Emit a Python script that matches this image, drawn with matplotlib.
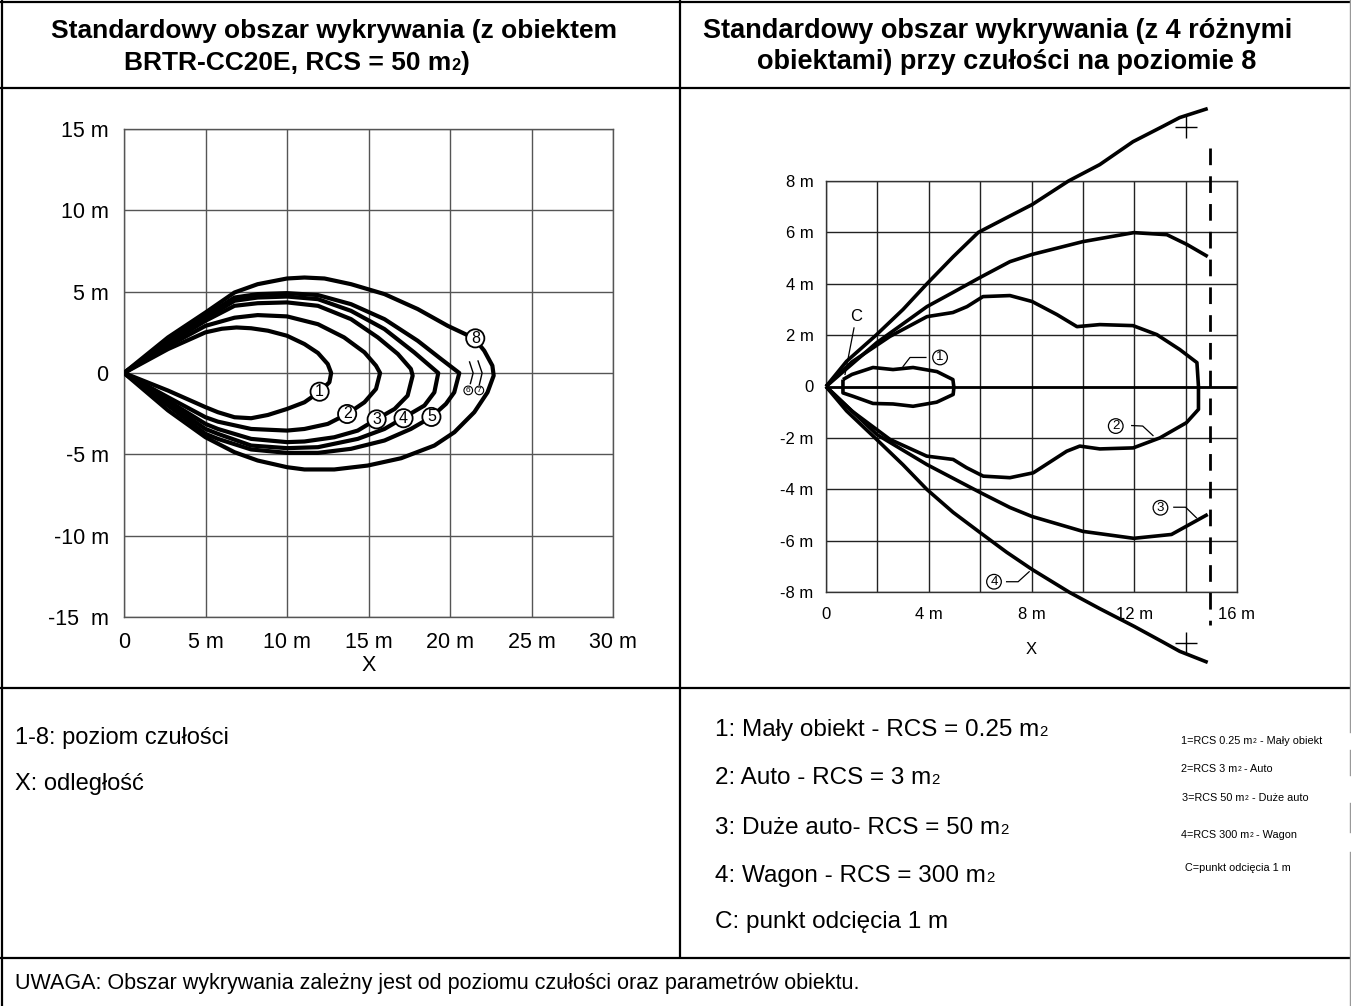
import matplotlib
matplotlib.use("Agg")
import matplotlib.pyplot as plt

plt.rcParams['font.family'] = ['Liberation Sans', 'DejaVu Sans']

# ---- left chart: sensitivity levels (object RCS = 50 m2) ----
levels = ['1', '2', '3', '4', '5', '8']
left_x = {
    '1': [0, 2.7, 5.0, 6.0, 6.9, 7.8, 8.83, 10, 11.07, 11.9, 12.5, 12.71, 12.6, 12.0, 11.07, 10, 8.83, 7.8,
          6.78, 5.76, 5.0, 2.7, 0],
    '2': [0, 2.7, 5.0, 6.78, 8.2, 10, 11.9, 13.5, 14.75, 15.46, 15.71, 15.46, 14.75, 13.69, 12.5, 11.07, 10,
          7.8, 5.76, 5.0, 2.7, 0],
    '3': [0, 2.7, 5.0, 6.78, 8.2, 10, 11.9, 13.93, 15.57, 16.8, 17.6, 17.71, 17.4, 16.6, 15.46, 14.34, 12.9,
          11.07, 10, 7.8, 5.76, 5.0, 2.7, 0],
    '4': [0, 2.7, 5.0, 6.78, 8.2, 10, 11.9, 13.93, 15.98, 17.8, 19.28, 19.04, 18.43, 17.1, 15.98, 14.34, 11.9,
          10, 7.8, 5.76, 5.0, 2.7, 0],
    '5': [0, 2.7, 5.0, 6.78, 8.2, 10, 11.9, 13.93, 15.98, 18.02, 19.45, 20.57, 20.26, 19.75, 18.84, 17.6,
          15.98, 13.93, 11.9, 10, 7.8, 5.76, 5.0, 2.7, 0],
    '8': [0, 2.7, 5.0, 6.78, 8.2, 10, 11.07, 12.3, 13.93, 15.98, 18.02, 19.86, 21.49, 22.1, 22.6, 22.68, 22.3,
          21.49, 20.27, 19.04, 17.0, 14.95, 12.9, 11.07, 10, 8.2, 6.78, 5.0, 2.7, 0],
}
left_y = {
    '1': [0, 1.47, 2.5, 2.72, 2.8, 2.75, 2.6, 2.29, 1.78, 1.23, 0.55, 0, -0.57, -1.15, -1.8, -2.21, -2.58, -2.78,
          -2.72, -2.41, -2.1, -1.08, 0],
    '2': [0, 1.65, 2.9, 3.4, 3.56, 3.48, 3.0, 2.19, 1.27, 0.45, 0, -0.98, -1.8, -2.52, -3.13, -3.44, -3.54,
          -3.44, -2.99, -2.72, -1.49, 0],
    '3': [0, 1.8, 3.21, 4.13, 4.29, 4.34, 4.13, 3.31, 2.19, 1.17, 0.25, -0.16, -1.39, -2.21, -2.86, -3.54, -3.95,
          -4.21, -4.25, -4.05, -3.44, -3.13, -1.7, 0],
    '4': [0, 1.9, 3.35, 4.44, 4.64, 4.7, 4.54, 3.82, 2.7, 1.27, 0, -1.19, -2.0, -2.78, -3.44, -4.05, -4.56,
          -4.62, -4.46, -3.74, -3.44, -1.85, 0],
    '5': [0, 2.0, 3.52, 4.64, 4.85, 4.91, 4.79, 4.23, 3.31, 1.98, 0.86, 0, -1.19, -1.9, -2.72, -3.44, -4.15,
          -4.66, -4.91, -4.91, -4.7, -4.05, -3.74, -2.0, 0],
    '8': [0, 2.19, 3.72, 4.95, 5.46, 5.81, 5.87, 5.81, 5.46, 4.85, 3.93, 2.9, 2.13, 1.37, 0.45, -0.16, -1.19,
          -2.41, -3.64, -4.46, -5.24, -5.69, -5.93, -5.93, -5.79, -5.38, -4.87, -3.95, -2.3, 0],
}
left_label_pos = {'1': (12.0, -1.15), '2': (13.69, -2.52), '3': (15.5, -2.85),
                  '4': (17.15, -2.78), '5': (18.86, -2.7), '8': (21.55, 2.13)}
# levels 6 and 7: only short arcs near the tip
arc6_x = [21.2, 21.42, 21.25]
arc6_y = [0.68, 0, -0.65]
arc7_x = [21.72, 21.97, 21.8]
arc7_y = [0.74, 0, -0.72]
small_label_pos = {'6': (21.12, -1.07), '7': (21.8, -1.07)}

left_xticks = [0, 5, 10, 15, 20, 25, 30]
left_xlabels = ['0', '5 m', '10 m', '15 m', '20 m', '25 m', '30 m']
left_yticks = [15, 10, 5, 0, -5, -10, -15]
left_ylabels = ['15 m', '10 m', '5 m', '0', '-5 m', '-10 m', '-15  m']

# ---- right chart: 4 objects at sensitivity 8 ----
r1_x = [0.66, 1.01, 1.83, 2.61, 3.39, 4.32, 4.94, 4.98, 4.95, 4.31, 3.39, 2.61, 1.83, 1.05, 0.66, 0.66]
r1_y = [0.27, 0.47, 0.74, 0.66, 0.74, 0.58, 0.27, -0.04, -0.31, -0.61, -0.77, -0.68, -0.66, -0.38, -0.25, 0.27]
r2_x = [0, 1.0, 2.49, 3.93, 4.94, 5.49, 6.11, 7.16, 8.02, 8.99, 9.77, 10.66, 11.95, 12.88, 13.77, 14.44, 14.5, 14.5,
        14.03, 13.0, 11.96, 10.66, 9.88, 9.37, 8.07, 7.16, 6.12, 5.47, 4.95, 3.92, 2.49, 1.0, 0]
r2_y = [0, 0.95, 1.95, 2.72, 2.88, 3.11, 3.5, 3.54, 3.31, 2.8, 2.33, 2.41, 2.37, 2.02, 1.44, 0.93, 0, -0.89,
        -1.41, -2.0, -2.39, -2.43, -2.32, -2.52, -3.36, -3.55, -3.49, -3.16, -2.84, -2.71, -2.06, -0.95, 0]
r3_top_x = [0, 1.98, 3.93, 4.94, 5.99, 7.16, 8.02, 10.0, 11.98, 13.27, 14.05, 14.86]
r3_top_y = [0, 1.71, 3.11, 3.66, 4.24, 4.86, 5.14, 5.64, 5.99, 5.91, 5.53, 5.06]
r3_bot_x = [0, 1.98, 3.93, 5.99, 7.16, 8.02, 10.0, 11.98, 13.45, 14.86]
r3_bot_y = [0, -1.87, -3.04, -4.12, -4.71, -5.06, -5.64, -5.91, -5.76, -4.98]
r4_top_x = [0, 0.8, 1.95, 3.0, 3.93, 4.95, 5.93, 7.03, 8.02, 9.44, 10.66, 11.95, 13.12, 13.77, 14.86]
r4_top_y = [0, 0.98, 2.0, 3.0, 4.0, 5.05, 6.0, 6.57, 7.08, 8.0, 8.64, 9.53, 10.13, 10.47, 10.82]
r4_bot_x = [0, 0.8, 1.97, 3.0, 3.93, 4.95, 5.99, 7.03, 8.02, 9.49, 10.66, 12.0, 13.12, 13.77, 14.86]
r4_bot_y = [0, -0.95, -2.06, -3.05, -4.01, -4.9, -5.68, -6.45, -7.12, -8.02, -8.65, -9.34, -9.95, -10.31, -10.74]
cutoff_x = 14.94
cutoff_y = [9.3, -9.3]
plus_x = [14.0, 14.0]
plus_y = [10.1, -10.0]

right_label_pos = {'1': (4.44, 1.13), '2': (11.28, -1.54), '3': (13.02, -4.72), '4': (6.54, -7.6)}
right_leaders = {
    '1': ([3.0, 3.27, 3.89], [0.78, 1.13, 1.13]),
    '2': ([11.9, 12.33, 12.73], [-1.52, -1.54, -1.91]),
    '3': ([13.54, 14.0, 14.42], [-4.7, -4.7, -5.11]),
    '4': ([7.03, 7.48, 7.91], [-7.6, -7.6, -7.21]),
}
c_leader_x = [1.09, 0.74]
c_leader_y = [2.28, 0.47]

right_xticks = [0, 4, 8, 12, 16]
right_xlabels = ['0', '4 m', '8 m', '12 m', '16 m']
right_yticks = [8, 6, 4, 2, 0, -2, -4, -6, -8]
right_ylabels = ['8 m', '6 m', '4 m', '2 m', '0', '-2 m', '-4 m', '-6 m', '-8 m']

W, H = 1351, 1006
fig = plt.figure(figsize=(W / 100, H / 100), dpi=100)

# background axes in pixel coordinates for the table frame and texts
bg = fig.add_axes([0, 0, 1, 1])
bg.set_xlim(0, W)
bg.set_ylim(H, 0)
bg.axis('off')


def rect(x0, y0, x1, y1):
    return [x0 / W, 1 - y1 / H, (x1 - x0) / W, (y1 - y0) / H]


# table frame
blk = dict(color='black', lw=1.6, solid_capstyle='butt')
bg.plot([0, W], [1.5, 1.5], **blk)
bg.plot([1.5, 1.5], [0, H], **blk)
bg.plot([680, 680], [0, 958], **blk)
for yy in [88, 688, 958]:
    bg.plot([0, W], [yy, yy], **blk)
for y0, y1 in [(0, 732), (750, 775), (803, 832), (852, H)]:
    bg.plot([1349.5, 1349.5], [y0, y1], color='#999999', lw=1)


def text_m2(x, y, before, after='', size=16, small=None, weight='normal'):
    if small is None:
        small = size * 0.62
    t1 = bg.text(x, y, before, fontsize=size, ha='left', va='baseline', fontweight=weight)
    t2 = bg.annotate('2', xy=(1, 0), xycoords=t1,
                     xytext=(0.3, 0.21 * (size - small)), textcoords='offset points',
                     fontsize=small, ha='left', va='bottom', fontweight=weight)
    if after:
        bg.annotate(after, xy=(1, 0), xycoords=(t2, t1), fontsize=size,
                    ha='left', va='bottom', fontweight=weight)


# titles
bg.text(334, 31, 'Standardowy obszar wykrywania (z obiektem', fontsize=19, fontweight='bold',
        ha='center', va='center')
text_m2(124, 70, 'BRTR-CC20E, RCS = 50 m', ')', size=19, weight='bold')
bg.text(998, 31, 'Standardowy obszar wykrywania (z 4 różnymi', fontsize=19.5, fontweight='bold',
        ha='center', va='center')
bg.text(1007, 62, 'obiektami) przy czułości na poziomie 8', fontsize=19.5, fontweight='bold',
        ha='center', va='center')

# legend cells
bg.text(15, 744, '1-8: poziom czułości', fontsize=17, va='baseline')
bg.text(15, 790, 'X: odległość', fontsize=17, va='baseline')
text_m2(715, 736, '1: Mały obiekt - RCS = 0.25 m', size=17.5)
text_m2(715, 784, '2: Auto - RCS = 3 m', size=17.5)
text_m2(715, 834, '3: Duże auto- RCS = 50 m', size=17.5)
text_m2(715, 882, '4: Wagon - RCS = 300 m', size=17.5)
bg.text(715, 928, 'C: punkt odcięcia 1 m', fontsize=17.5, va='baseline')

text_m2(1181, 744, '1=RCS 0.25 m', ' - Mały obiekt', size=7.8)
text_m2(1181, 772, '2=RCS 3 m', ' - Auto', size=7.8)
text_m2(1182, 801, '3=RCS 50 m', ' - Duże auto', size=7.8)
text_m2(1181, 838, '4=RCS 300 m', ' - Wagon', size=7.8)
bg.text(1185, 871, 'C=punkt odcięcia 1 m', fontsize=7.8, va='baseline')

bg.text(15, 989, 'UWAGA: Obszar wykrywania zależny jest od poziomu czułości oraz parametrów obiektu.',
        fontsize=15.5, va='baseline')

# ---- left chart ----
axL = fig.add_axes(rect(124, 129, 613, 617))
axL.set_xlim(0, 30)
axL.set_ylim(-15, 15)
axL.set_xticks(left_xticks, left_xlabels)
axL.set_yticks(left_yticks, left_ylabels)
axL.tick_params(length=0, labelsize=15.5, pad=11)
axL.grid(True, color='#555555', lw=1)
for s in axL.spines.values():
    s.set_color('#555555')
    s.set_linewidth(1)
axL.set_xlabel('X', fontsize=15.5, labelpad=1)
axL.set_facecolor('none')

for lv in levels:
    axL.plot(left_x[lv], left_y[lv], color='black', lw=3, solid_joinstyle='round',
             solid_capstyle='round', zorder=3)
for lv in levels:
    lx, ly = left_label_pos[lv]
    axL.text(lx, ly, lv, fontsize=11.5, ha='center', va='center', zorder=5,
             bbox=dict(boxstyle='circle,pad=0.1', fc='white', ec='black', lw=1.3))
axL.plot(arc6_x, arc6_y, color='black', lw=1, zorder=3)
axL.plot(arc7_x, arc7_y, color='black', lw=1, zorder=3)
for lv, (lx, ly) in small_label_pos.items():
    axL.text(lx, ly, lv, fontsize=6, ha='center', va='center', zorder=5,
             bbox=dict(boxstyle='circle,pad=0.1', fc='white', ec='black', lw=0.8))

# ---- right chart ----
axR = fig.add_axes(rect(826, 181, 1237, 592))
axR.set_xlim(0, 16)
axR.set_ylim(-8, 8)
axR.set_xticks(right_xticks, right_xlabels)
axR.set_xticks(range(0, 17, 2), minor=True)
axR.set_yticks(right_yticks, right_ylabels)
axR.tick_params(which='both', length=0, labelsize=12, pad=9)
axR.tick_params(axis='x', pad=11)
axR.grid(True, which='both', color='#222222', lw=1)
for s in axR.spines.values():
    s.set_color('#333333')
    s.set_linewidth(1)
axR.set_xlabel('X', fontsize=12, labelpad=14)
axR.set_facecolor('none')

axR.axhline(0, color='black', lw=2, zorder=2)
kw = dict(color='black', lw=2.6, solid_joinstyle='round', solid_capstyle='butt', clip_on=False, zorder=3)
axR.plot(r1_x, r1_y, **kw)
axR.plot(r2_x, r2_y, **kw)
axR.plot(r3_top_x, r3_top_y, **kw)
axR.plot(r3_bot_x, r3_bot_y, **kw)
axR.plot(r4_top_x, r4_top_y, **kw)
axR.plot(r4_bot_x, r4_bot_y, **kw)
axR.plot([cutoff_x, cutoff_x], cutoff_y, color='black', lw=2, dashes=(6, 4), clip_on=False, zorder=3)
axR.plot(plus_x, plus_y, ls='none', marker='+', ms=16, mew=1, color='black', clip_on=False)

for lv, (lx, ly) in right_label_pos.items():
    axR.text(lx, ly, lv, fontsize=9.5, ha='center', va='center', zorder=5,
             bbox=dict(boxstyle='circle,pad=0.1', fc='white', ec='black', lw=0.9))
    ldx, ldy = right_leaders[lv]
    axR.plot(ldx, ldy, color='black', lw=0.9, clip_on=False, zorder=4)
axR.plot(c_leader_x, c_leader_y, color='black', lw=0.9, zorder=4)
axR.text(1.17, 2.74, 'C', fontsize=12, ha='center', va='center')

fig.savefig('out.png', dpi=100)
